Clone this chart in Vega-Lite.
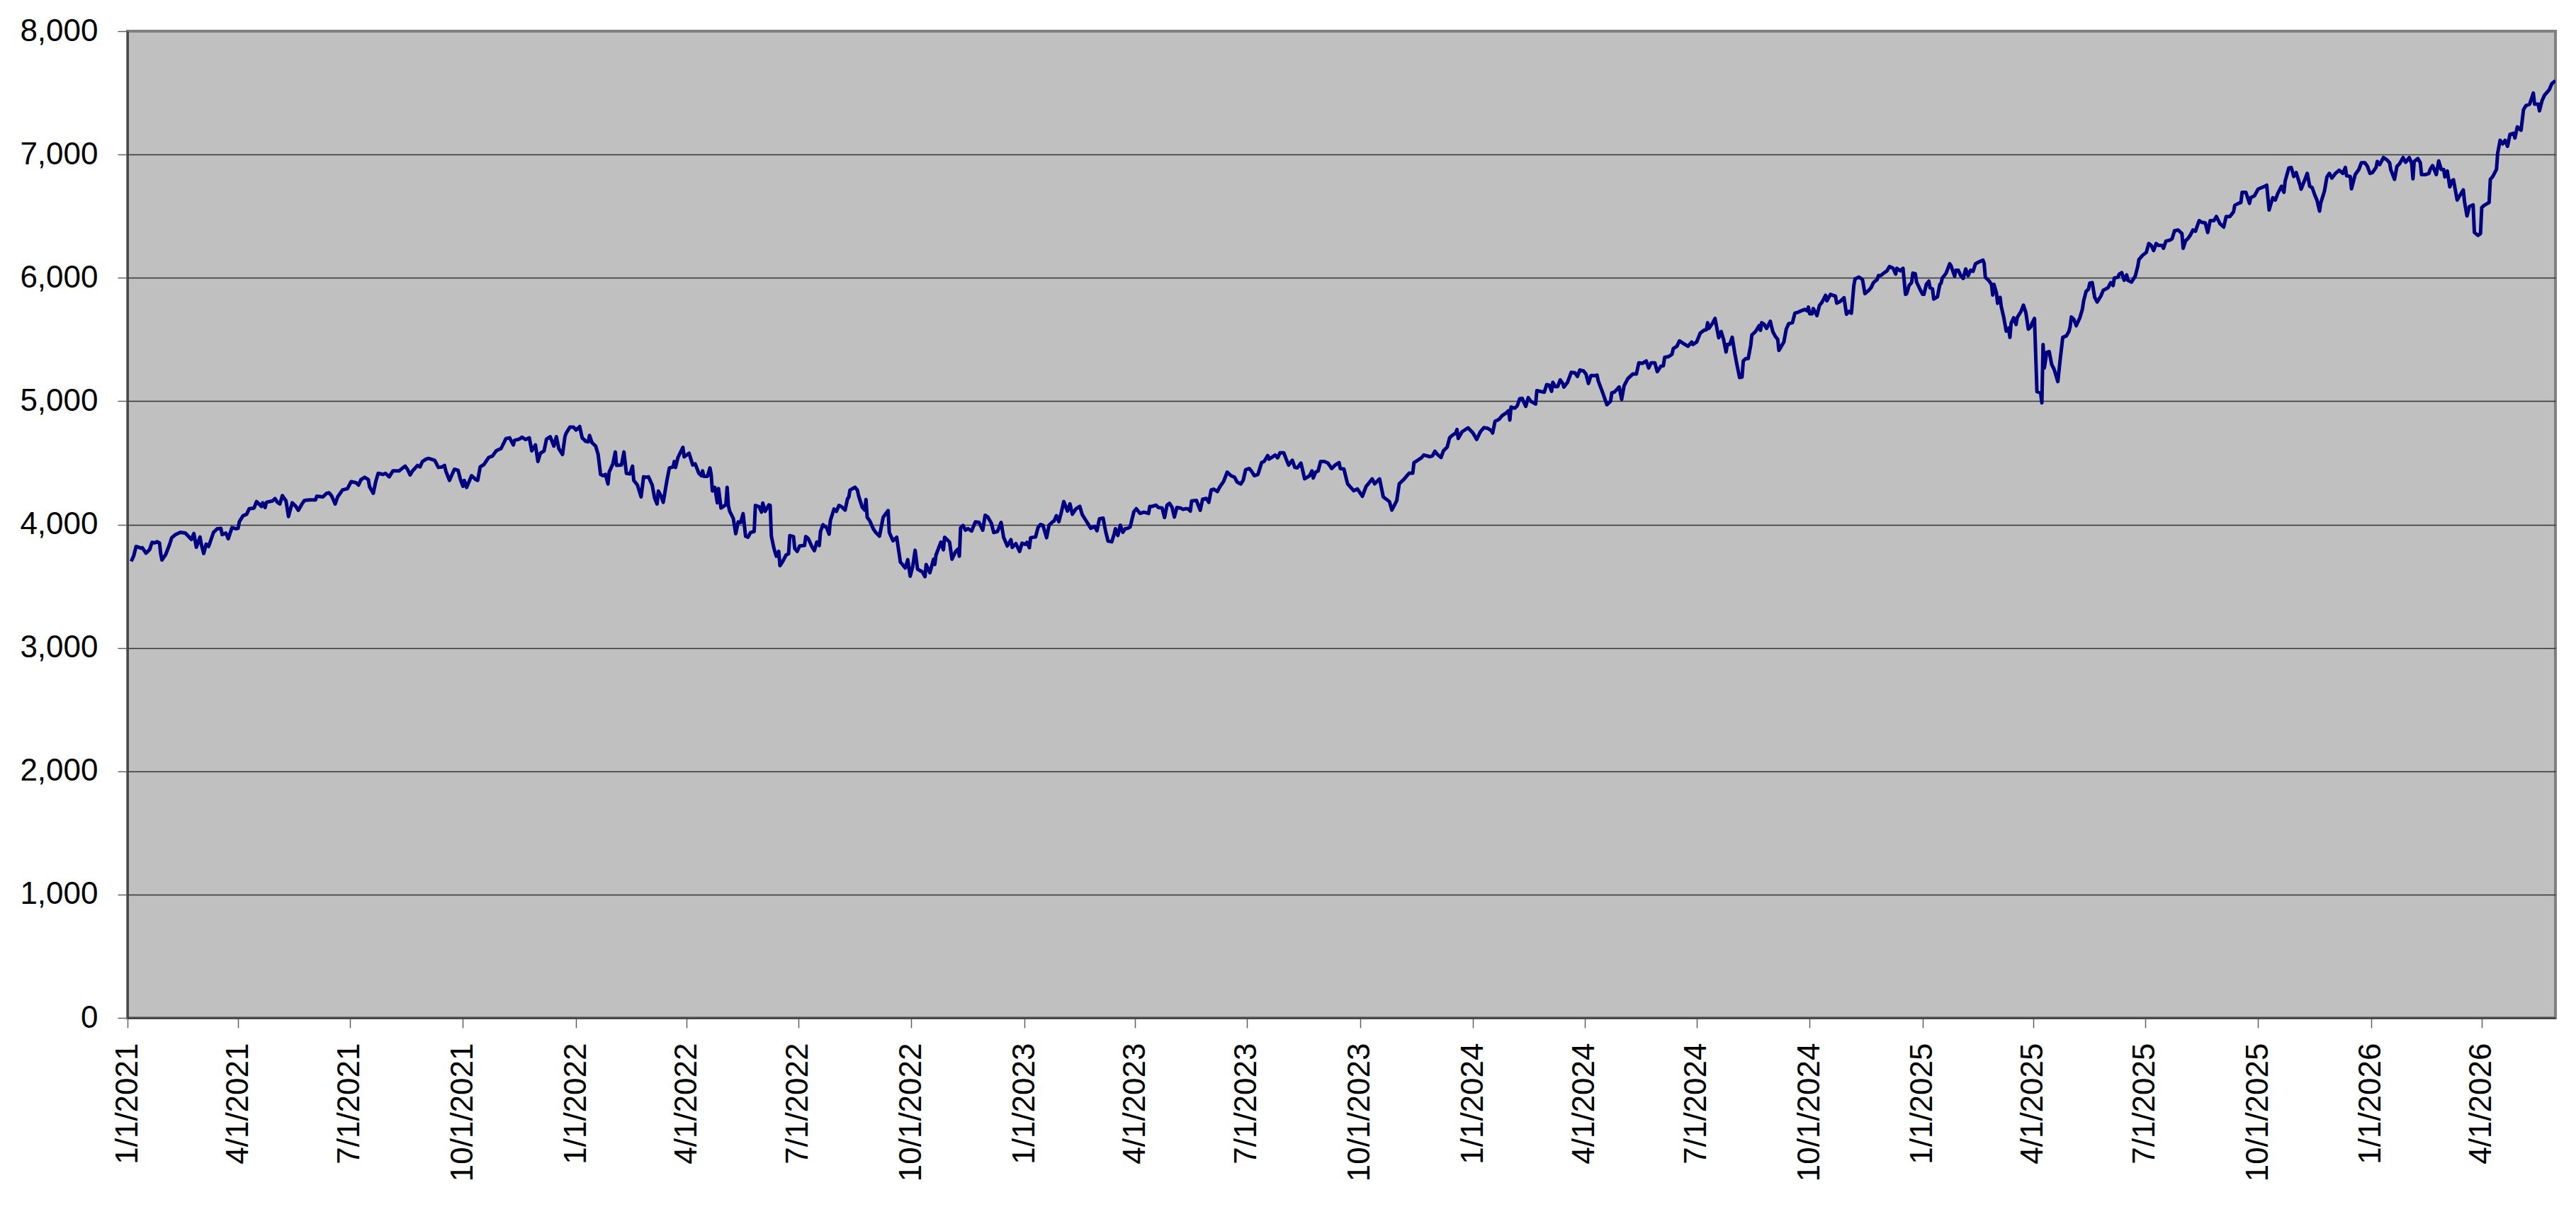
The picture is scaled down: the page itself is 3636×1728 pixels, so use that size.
{
"$schema": "https://vega.github.io/schema/vega-lite/v6.json",
"width": 3427, "height": 1393,
"autosize": {"type": "none"},
"padding": {"left": 180, "top": 44, "right": 29, "bottom": 291},
"background": "white",
"config": {
  "view": {"fill": "#C0C0C0", "stroke": "#808080", "strokeWidth": 4},
  "axis": {"labelFont": "Liberation Sans", "labelFontSize": 44, "labelColor": "#000000", "labelLimit": 0}
},
"data": {"values": [
{"d":"2021-01-04","v":3701},{"d":"2021-01-06","v":3745},{"d":"2021-01-08","v":3822},{"d":"2021-01-12","v":3809},{"d":"2021-01-13","v":3812},{"d":"2021-01-16","v":3768},{"d":"2021-01-19","v":3797},{"d":"2021-01-21","v":3856},{"d":"2021-01-23","v":3851},{"d":"2021-01-25","v":3860},{"d":"2021-01-27","v":3851},{"d":"2021-01-28","v":3765},{"d":"2021-01-29","v":3713},
{"d":"2021-02-01","v":3755},{"d":"2021-02-04","v":3832},{"d":"2021-02-06","v":3893},{"d":"2021-02-09","v":3918},{"d":"2021-02-13","v":3937},{"d":"2021-02-17","v":3931},{"d":"2021-02-22","v":3879},{"d":"2021-02-24","v":3927},{"d":"2021-02-26","v":3816},
{"d":"2021-03-01","v":3899},{"d":"2021-03-02","v":3841},{"d":"2021-03-04","v":3765},{"d":"2021-03-06","v":3841},{"d":"2021-03-08","v":3822},{"d":"2021-03-12","v":3937},{"d":"2021-03-15","v":3966},{"d":"2021-03-18","v":3969},{"d":"2021-03-19","v":3918},{"d":"2021-03-22","v":3931},{"d":"2021-03-24","v":3885},{"d":"2021-03-27","v":3975},{"d":"2021-03-30","v":3966},
{"d":"2021-04-01","v":3969},{"d":"2021-04-02","v":4023},{"d":"2021-04-05","v":4071},{"d":"2021-04-08","v":4084},{"d":"2021-04-10","v":4128},{"d":"2021-04-14","v":4134},{"d":"2021-04-16","v":4186},{"d":"2021-04-20","v":4147},{"d":"2021-04-21","v":4176},{"d":"2021-04-23","v":4138},{"d":"2021-04-24","v":4180},{"d":"2021-04-29","v":4191},
{"d":"2021-05-01","v":4210},{"d":"2021-05-03","v":4180},{"d":"2021-05-05","v":4167},{"d":"2021-05-07","v":4234},{"d":"2021-05-10","v":4191},{"d":"2021-05-12","v":4065},{"d":"2021-05-15","v":4176},{"d":"2021-05-18","v":4147},{"d":"2021-05-20","v":4115},{"d":"2021-05-23","v":4167},{"d":"2021-05-25","v":4195},{"d":"2021-05-29","v":4199},
{"d":"2021-06-03","v":4199},{"d":"2021-06-04","v":4230},{"d":"2021-06-09","v":4224},{"d":"2021-06-12","v":4253},{"d":"2021-06-14","v":4257},{"d":"2021-06-16","v":4234},{"d":"2021-06-19","v":4167},{"d":"2021-06-21","v":4224},{"d":"2021-06-25","v":4281},{"d":"2021-06-29","v":4291},
{"d":"2021-07-02","v":4348},{"d":"2021-07-06","v":4339},{"d":"2021-07-08","v":4320},{"d":"2021-07-10","v":4364},{"d":"2021-07-13","v":4383},{"d":"2021-07-16","v":4364},{"d":"2021-07-17","v":4306},{"d":"2021-07-20","v":4253},{"d":"2021-07-22","v":4348},{"d":"2021-07-24","v":4415},{"d":"2021-07-28","v":4406},{"d":"2021-07-30","v":4415},
{"d":"2021-08-02","v":4387},{"d":"2021-08-05","v":4435},{"d":"2021-08-10","v":4435},{"d":"2021-08-13","v":4459},{"d":"2021-08-15","v":4473},{"d":"2021-08-17","v":4444},{"d":"2021-08-19","v":4402},{"d":"2021-08-21","v":4435},{"d":"2021-08-25","v":4479},{"d":"2021-08-27","v":4467},{"d":"2021-08-29","v":4511},
{"d":"2021-09-01","v":4530},{"d":"2021-09-03","v":4536},{"d":"2021-09-08","v":4521},{"d":"2021-09-11","v":4463},{"d":"2021-09-14","v":4467},{"d":"2021-09-16","v":4479},{"d":"2021-09-17","v":4435},{"d":"2021-09-20","v":4358},{"d":"2021-09-24","v":4448},{"d":"2021-09-27","v":4440},{"d":"2021-09-29","v":4364},
{"d":"2021-10-01","v":4310},{"d":"2021-10-02","v":4358},{"d":"2021-10-04","v":4301},{"d":"2021-10-08","v":4396},{"d":"2021-10-11","v":4368},{"d":"2021-10-13","v":4358},{"d":"2021-10-15","v":4467},{"d":"2021-10-18","v":4486},{"d":"2021-10-22","v":4544},{"d":"2021-10-25","v":4555},{"d":"2021-10-28","v":4597},{"d":"2021-10-30","v":4607},
{"d":"2021-11-01","v":4616},{"d":"2021-11-05","v":4697},{"d":"2021-11-08","v":4703},{"d":"2021-11-11","v":4645},{"d":"2021-11-12","v":4683},{"d":"2021-11-16","v":4693},{"d":"2021-11-18","v":4708},{"d":"2021-11-21","v":4689},{"d":"2021-11-24","v":4703},{"d":"2021-11-26","v":4597},{"d":"2021-11-29","v":4645},
{"d":"2021-12-01","v":4511},{"d":"2021-12-03","v":4578},{"d":"2021-12-06","v":4597},{"d":"2021-12-08","v":4693},{"d":"2021-12-11","v":4712},{"d":"2021-12-14","v":4636},{"d":"2021-12-16","v":4712},{"d":"2021-12-18","v":4616},{"d":"2021-12-21","v":4568},{"d":"2021-12-23","v":4712},{"d":"2021-12-24","v":4741},{"d":"2021-12-27","v":4789},{"d":"2021-12-30","v":4789},
{"d":"2022-01-01","v":4766},{"d":"2022-01-04","v":4794},{"d":"2022-01-06","v":4703},{"d":"2022-01-09","v":4674},{"d":"2022-01-11","v":4670},{"d":"2022-01-12","v":4722},{"d":"2022-01-14","v":4664},{"d":"2022-01-17","v":4636},{"d":"2022-01-19","v":4569},{"d":"2022-01-21","v":4406},{"d":"2022-01-23","v":4396},{"d":"2022-01-25","v":4406},{"d":"2022-01-27","v":4329},{"d":"2022-01-28","v":4425},{"d":"2022-01-31","v":4492},
{"d":"2022-02-02","v":4588},{"d":"2022-02-03","v":4479},{"d":"2022-02-07","v":4483},{"d":"2022-02-09","v":4588},{"d":"2022-02-11","v":4415},{"d":"2022-02-14","v":4410},{"d":"2022-02-16","v":4473},{"d":"2022-02-17","v":4358},{"d":"2022-02-20","v":4320},{"d":"2022-02-23","v":4224},{"d":"2022-02-25","v":4387},{"d":"2022-02-27","v":4383},
{"d":"2022-03-01","v":4387},{"d":"2022-03-04","v":4320},{"d":"2022-03-06","v":4214},{"d":"2022-03-08","v":4167},{"d":"2022-03-09","v":4272},{"d":"2022-03-11","v":4234},{"d":"2022-03-13","v":4180},{"d":"2022-03-16","v":4358},{"d":"2022-03-18","v":4459},{"d":"2022-03-21","v":4467},{"d":"2022-03-22","v":4511},{"d":"2022-03-23","v":4463},{"d":"2022-03-25","v":4544},{"d":"2022-03-29","v":4626},{"d":"2022-03-30","v":4549},
{"d":"2022-04-01","v":4563},{"d":"2022-04-03","v":4578},{"d":"2022-04-06","v":4483},{"d":"2022-04-08","v":4492},{"d":"2022-04-11","v":4415},{"d":"2022-04-13","v":4396},{"d":"2022-04-14","v":4435},{"d":"2022-04-15","v":4391},{"d":"2022-04-18","v":4391},{"d":"2022-04-20","v":4459},{"d":"2022-04-21","v":4406},{"d":"2022-04-22","v":4272},{"d":"2022-04-24","v":4301},{"d":"2022-04-26","v":4176},{"d":"2022-04-27","v":4291},{"d":"2022-04-29","v":4134},
{"d":"2022-05-01","v":4147},{"d":"2022-05-03","v":4161},{"d":"2022-05-04","v":4301},{"d":"2022-05-05","v":4155},{"d":"2022-05-06","v":4110},{"d":"2022-05-09","v":4050},{"d":"2022-05-11","v":3925},{"d":"2022-05-13","v":4021},{"d":"2022-05-15","v":4017},{"d":"2022-05-17","v":4088},{"d":"2022-05-19","v":3906},{"d":"2022-05-21","v":3897},{"d":"2022-05-23","v":3935},{"d":"2022-05-26","v":3944},{"d":"2022-05-27","v":4155},{"d":"2022-05-30","v":4145},
{"d":"2022-06-01","v":4101},{"d":"2022-06-02","v":4174},{"d":"2022-06-04","v":4107},{"d":"2022-06-07","v":4159},{"d":"2022-06-08","v":4155},{"d":"2022-06-09","v":3906},{"d":"2022-06-11","v":3810},{"d":"2022-06-13","v":3743},{"d":"2022-06-15","v":3782},{"d":"2022-06-16","v":3667},{"d":"2022-06-18","v":3696},{"d":"2022-06-21","v":3753},{"d":"2022-06-23","v":3763},{"d":"2022-06-24","v":3910},{"d":"2022-06-27","v":3902},{"d":"2022-06-28","v":3807},{"d":"2022-06-30","v":3782},
{"d":"2022-07-02","v":3826},{"d":"2022-07-06","v":3830},{"d":"2022-07-07","v":3902},{"d":"2022-07-09","v":3887},{"d":"2022-07-12","v":3820},{"d":"2022-07-14","v":3788},{"d":"2022-07-16","v":3858},{"d":"2022-07-18","v":3830},{"d":"2022-07-19","v":3944},{"d":"2022-07-21","v":3998},{"d":"2022-07-24","v":3973},{"d":"2022-07-26","v":3922},{"d":"2022-07-27","v":4031},{"d":"2022-07-30","v":4126},
{"d":"2022-08-01","v":4107},{"d":"2022-08-03","v":4155},{"d":"2022-08-05","v":4145},{"d":"2022-08-08","v":4117},{"d":"2022-08-10","v":4209},{"d":"2022-08-11","v":4222},{"d":"2022-08-12","v":4279},{"d":"2022-08-16","v":4302},{"d":"2022-08-18","v":4279},{"d":"2022-08-19","v":4232},{"d":"2022-08-22","v":4140},{"d":"2022-08-24","v":4117},{"d":"2022-08-25","v":4203},{"d":"2022-08-26","v":4059},{"d":"2022-08-28","v":4031},{"d":"2022-08-31","v":3964},
{"d":"2022-09-02","v":3935},{"d":"2022-09-05","v":3906},{"d":"2022-09-08","v":4059},{"d":"2022-09-12","v":4113},{"d":"2022-09-13","v":3935},{"d":"2022-09-16","v":3868},{"d":"2022-09-19","v":3897},{"d":"2022-09-22","v":3696},{"d":"2022-09-26","v":3648},{"d":"2022-09-28","v":3715},{"d":"2022-09-30","v":3581},
{"d":"2022-10-02","v":3657},{"d":"2022-10-04","v":3791},{"d":"2022-10-06","v":3638},{"d":"2022-10-10","v":3615},{"d":"2022-10-12","v":3577},{"d":"2022-10-13","v":3676},{"d":"2022-10-16","v":3609},{"d":"2022-10-19","v":3719},{"d":"2022-10-20","v":3676},{"d":"2022-10-21","v":3753},{"d":"2022-10-25","v":3858},{"d":"2022-10-27","v":3795},{"d":"2022-10-28","v":3897},
{"d":"2022-11-01","v":3858},{"d":"2022-11-03","v":3719},{"d":"2022-11-06","v":3782},{"d":"2022-11-08","v":3801},{"d":"2022-11-09","v":3743},{"d":"2022-11-10","v":3973},{"d":"2022-11-12","v":3992},{"d":"2022-11-14","v":3954},{"d":"2022-11-16","v":3967},{"d":"2022-11-19","v":3948},{"d":"2022-11-22","v":4021},{"d":"2022-11-25","v":4017},{"d":"2022-11-28","v":3954},{"d":"2022-11-30","v":4075},
{"d":"2022-12-02","v":4063},{"d":"2022-12-05","v":4011},{"d":"2022-12-07","v":3935},{"d":"2022-12-10","v":3944},{"d":"2022-12-13","v":4017},{"d":"2022-12-15","v":3897},{"d":"2022-12-18","v":3826},{"d":"2022-12-21","v":3877},{"d":"2022-12-22","v":3814},{"d":"2022-12-25","v":3845},{"d":"2022-12-28","v":3782},{"d":"2022-12-30","v":3849},
{"d":"2023-01-02","v":3839},{"d":"2023-01-03","v":3855},{"d":"2023-01-05","v":3812},{"d":"2023-01-06","v":3893},{"d":"2023-01-10","v":3899},{"d":"2023-01-12","v":3975},{"d":"2023-01-14","v":4000},{"d":"2023-01-16","v":3994},{"d":"2023-01-19","v":3893},{"d":"2023-01-21","v":3994},{"d":"2023-01-24","v":4023},{"d":"2023-01-25","v":4027},{"d":"2023-01-27","v":4071},{"d":"2023-01-29","v":4023},{"d":"2023-01-31","v":4100},
{"d":"2023-02-02","v":4186},{"d":"2023-02-05","v":4109},{"d":"2023-02-07","v":4167},{"d":"2023-02-09","v":4084},{"d":"2023-02-12","v":4128},{"d":"2023-02-15","v":4147},{"d":"2023-02-17","v":4080},{"d":"2023-02-20","v":4033},{"d":"2023-02-23","v":3985},{"d":"2023-02-24","v":3969},{"d":"2023-02-27","v":3985},
{"d":"2023-03-01","v":3950},{"d":"2023-03-03","v":4046},{"d":"2023-03-06","v":4052},{"d":"2023-03-08","v":3946},{"d":"2023-03-10","v":3866},{"d":"2023-03-13","v":3860},{"d":"2023-03-15","v":3923},{"d":"2023-03-16","v":3966},{"d":"2023-03-18","v":3912},{"d":"2023-03-20","v":3994},{"d":"2023-03-22","v":3937},{"d":"2023-03-24","v":3966},{"d":"2023-03-26","v":3969},{"d":"2023-03-28","v":3981},{"d":"2023-03-31","v":4103},
{"d":"2023-04-02","v":4128},{"d":"2023-04-05","v":4090},{"d":"2023-04-08","v":4100},{"d":"2023-04-10","v":4096},{"d":"2023-04-12","v":4090},{"d":"2023-04-13","v":4147},{"d":"2023-04-15","v":4147},{"d":"2023-04-18","v":4157},{"d":"2023-04-20","v":4138},{"d":"2023-04-23","v":4134},{"d":"2023-04-25","v":4057},{"d":"2023-04-27","v":4157},{"d":"2023-04-29","v":4172},
{"d":"2023-05-01","v":4142},{"d":"2023-05-03","v":4061},{"d":"2023-05-05","v":4138},{"d":"2023-05-08","v":4134},{"d":"2023-05-10","v":4123},{"d":"2023-05-12","v":4128},{"d":"2023-05-14","v":4128},{"d":"2023-05-16","v":4109},{"d":"2023-05-17","v":4191},{"d":"2023-05-21","v":4195},{"d":"2023-05-22","v":4167},{"d":"2023-05-24","v":4115},{"d":"2023-05-26","v":4205},{"d":"2023-05-29","v":4211},{"d":"2023-05-31","v":4180},
{"d":"2023-06-02","v":4281},{"d":"2023-06-04","v":4287},{"d":"2023-06-07","v":4268},{"d":"2023-06-09","v":4306},{"d":"2023-06-12","v":4348},{"d":"2023-06-15","v":4425},{"d":"2023-06-18","v":4396},{"d":"2023-06-21","v":4383},{"d":"2023-06-23","v":4345},{"d":"2023-06-26","v":4329},{"d":"2023-06-28","v":4358},{"d":"2023-06-30","v":4444},
{"d":"2023-07-03","v":4454},{"d":"2023-07-05","v":4429},{"d":"2023-07-07","v":4396},{"d":"2023-07-10","v":4406},{"d":"2023-07-13","v":4502},{"d":"2023-07-15","v":4511},{"d":"2023-07-18","v":4559},{"d":"2023-07-19","v":4530},{"d":"2023-07-22","v":4549},{"d":"2023-07-24","v":4563},{"d":"2023-07-26","v":4540},{"d":"2023-07-28","v":4582},{"d":"2023-07-31","v":4582},
{"d":"2023-08-02","v":4530},{"d":"2023-08-04","v":4482},{"d":"2023-08-07","v":4521},{"d":"2023-08-09","v":4463},{"d":"2023-08-11","v":4459},{"d":"2023-08-14","v":4498},{"d":"2023-08-17","v":4371},{"d":"2023-08-19","v":4383},{"d":"2023-08-21","v":4396},{"d":"2023-08-23","v":4435},{"d":"2023-08-24","v":4377},{"d":"2023-08-26","v":4425},{"d":"2023-08-28","v":4435},{"d":"2023-08-30","v":4511},
{"d":"2023-09-02","v":4511},{"d":"2023-09-05","v":4498},{"d":"2023-09-08","v":4454},{"d":"2023-09-11","v":4483},{"d":"2023-09-14","v":4502},{"d":"2023-09-15","v":4454},{"d":"2023-09-18","v":4449},{"d":"2023-09-20","v":4368},{"d":"2023-09-21","v":4330},{"d":"2023-09-26","v":4274},{"d":"2023-09-29","v":4288},
{"d":"2023-10-03","v":4229},{"d":"2023-10-06","v":4308},{"d":"2023-10-11","v":4370},{"d":"2023-10-13","v":4330},{"d":"2023-10-17","v":4370},{"d":"2023-10-20","v":4224},{"d":"2023-10-25","v":4186},{"d":"2023-10-27","v":4117},{"d":"2023-10-31","v":4194},
{"d":"2023-11-02","v":4330},{"d":"2023-11-06","v":4368},{"d":"2023-11-10","v":4416},{"d":"2023-11-13","v":4416},{"d":"2023-11-14","v":4502},{"d":"2023-11-17","v":4521},{"d":"2023-11-20","v":4541},{"d":"2023-11-22","v":4564},{"d":"2023-11-27","v":4550},{"d":"2023-11-29","v":4556},
{"d":"2023-12-01","v":4594},{"d":"2023-12-03","v":4569},{"d":"2023-12-06","v":4544},{"d":"2023-12-08","v":4598},{"d":"2023-12-11","v":4627},{"d":"2023-12-13","v":4703},{"d":"2023-12-15","v":4722},{"d":"2023-12-18","v":4742},{"d":"2023-12-19","v":4770},{"d":"2023-12-20","v":4698},{"d":"2023-12-23","v":4751},{"d":"2023-12-28","v":4784},
{"d":"2024-01-01","v":4742},{"d":"2024-01-04","v":4690},{"d":"2024-01-07","v":4751},{"d":"2024-01-10","v":4786},{"d":"2024-01-13","v":4780},{"d":"2024-01-16","v":4761},{"d":"2024-01-17","v":4742},{"d":"2024-01-19","v":4837},{"d":"2024-01-22","v":4851},{"d":"2024-01-25","v":4885},{"d":"2024-01-28","v":4904},{"d":"2024-01-30","v":4923},{"d":"2024-01-31","v":4847},
{"d":"2024-02-01","v":4952},{"d":"2024-02-04","v":4943},{"d":"2024-02-06","v":4962},{"d":"2024-02-08","v":5019},{"d":"2024-02-10","v":5023},{"d":"2024-02-13","v":4958},{"d":"2024-02-15","v":5029},{"d":"2024-02-17","v":5000},{"d":"2024-02-21","v":4977},{"d":"2024-02-22","v":5086},{"d":"2024-02-26","v":5077},{"d":"2024-02-28","v":5073},
{"d":"2024-03-01","v":5134},{"d":"2024-03-03","v":5130},{"d":"2024-03-05","v":5080},{"d":"2024-03-06","v":5153},{"d":"2024-03-08","v":5119},{"d":"2024-03-10","v":5119},{"d":"2024-03-12","v":5172},{"d":"2024-03-14","v":5144},{"d":"2024-03-15","v":5115},{"d":"2024-03-18","v":5153},{"d":"2024-03-21","v":5234},{"d":"2024-03-24","v":5230},{"d":"2024-03-26","v":5201},{"d":"2024-03-28","v":5253},{"d":"2024-03-31","v":5245},
{"d":"2024-04-02","v":5220},{"d":"2024-04-04","v":5144},{"d":"2024-04-06","v":5207},{"d":"2024-04-09","v":5207},{"d":"2024-04-11","v":5211},{"d":"2024-04-12","v":5163},{"d":"2024-04-16","v":5057},{"d":"2024-04-18","v":5000},{"d":"2024-04-19","v":4971},{"d":"2024-04-22","v":5000},{"d":"2024-04-23","v":5067},{"d":"2024-04-25","v":5073},{"d":"2024-04-28","v":5105},{"d":"2024-04-29","v":5115},
{"d":"2024-05-01","v":5015},{"d":"2024-05-03","v":5125},{"d":"2024-05-06","v":5182},{"d":"2024-05-08","v":5201},{"d":"2024-05-10","v":5220},{"d":"2024-05-13","v":5221},{"d":"2024-05-15","v":5311},{"d":"2024-05-18","v":5307},{"d":"2024-05-21","v":5326},{"d":"2024-05-23","v":5269},{"d":"2024-05-25","v":5311},{"d":"2024-05-28","v":5311},{"d":"2024-05-30","v":5240},
{"d":"2024-06-02","v":5284},{"d":"2024-06-04","v":5288},{"d":"2024-06-05","v":5355},{"d":"2024-06-08","v":5361},{"d":"2024-06-11","v":5380},{"d":"2024-06-12","v":5426},{"d":"2024-06-15","v":5445},{"d":"2024-06-17","v":5489},{"d":"2024-06-20","v":5470},{"d":"2024-06-24","v":5445},{"d":"2024-06-27","v":5479},{"d":"2024-06-28","v":5460},
{"d":"2024-07-01","v":5479},{"d":"2024-07-04","v":5552},{"d":"2024-07-07","v":5575},{"d":"2024-07-09","v":5579},{"d":"2024-07-10","v":5636},{"d":"2024-07-11","v":5590},{"d":"2024-07-14","v":5632},{"d":"2024-07-16","v":5671},{"d":"2024-07-19","v":5514},{"d":"2024-07-21","v":5565},{"d":"2024-07-23","v":5499},{"d":"2024-07-25","v":5399},{"d":"2024-07-26","v":5460},{"d":"2024-07-28","v":5460},{"d":"2024-07-30","v":5518},
{"d":"2024-08-01","v":5393},{"d":"2024-08-03","v":5288},{"d":"2024-08-05","v":5192},{"d":"2024-08-07","v":5196},{"d":"2024-08-08","v":5326},{"d":"2024-08-10","v":5345},{"d":"2024-08-12","v":5345},{"d":"2024-08-14","v":5451},{"d":"2024-08-15","v":5537},{"d":"2024-08-18","v":5565},{"d":"2024-08-21","v":5613},{"d":"2024-08-22","v":5575},{"d":"2024-08-23","v":5636},{"d":"2024-08-25","v":5623},{"d":"2024-08-27","v":5590},{"d":"2024-08-30","v":5648},
{"d":"2024-09-01","v":5565},{"d":"2024-09-03","v":5527},{"d":"2024-09-05","v":5502},{"d":"2024-09-06","v":5412},{"d":"2024-09-10","v":5479},{"d":"2024-09-12","v":5585},{"d":"2024-09-14","v":5629},{"d":"2024-09-17","v":5636},{"d":"2024-09-19","v":5713},{"d":"2024-09-21","v":5719},{"d":"2024-09-24","v":5732},{"d":"2024-09-27","v":5744},{"d":"2024-09-29","v":5732},{"d":"2024-09-30","v":5763},
{"d":"2024-10-01","v":5709},{"d":"2024-10-03","v":5709},{"d":"2024-10-04","v":5751},{"d":"2024-10-07","v":5694},{"d":"2024-10-09","v":5776},{"d":"2024-10-11","v":5801},{"d":"2024-10-14","v":5858},{"d":"2024-10-15","v":5814},{"d":"2024-10-18","v":5866},{"d":"2024-10-20","v":5858},{"d":"2024-10-22","v":5853},{"d":"2024-10-23","v":5795},{"d":"2024-10-26","v":5809},{"d":"2024-10-29","v":5839},{"d":"2024-10-31","v":5705},
{"d":"2024-11-02","v":5728},{"d":"2024-11-04","v":5713},{"d":"2024-11-06","v":5939},{"d":"2024-11-07","v":5992},{"d":"2024-11-10","v":6006},{"d":"2024-11-13","v":5987},{"d":"2024-11-15","v":5872},{"d":"2024-11-18","v":5897},{"d":"2024-11-20","v":5920},{"d":"2024-11-22","v":5962},{"d":"2024-11-25","v":5987},{"d":"2024-11-26","v":6019},{"d":"2024-11-28","v":6019},
{"d":"2024-12-01","v":6044},{"d":"2024-12-03","v":6057},{"d":"2024-12-05","v":6092},{"d":"2024-12-08","v":6077},{"d":"2024-12-10","v":6031},{"d":"2024-12-11","v":6077},{"d":"2024-12-14","v":6057},{"d":"2024-12-16","v":6077},{"d":"2024-12-18","v":5866},{"d":"2024-12-19","v":5872},{"d":"2024-12-21","v":5939},{"d":"2024-12-23","v":5962},{"d":"2024-12-24","v":6038},{"d":"2024-12-26","v":6034},{"d":"2024-12-27","v":5967},{"d":"2024-12-30","v":5904},
{"d":"2025-01-01","v":5866},{"d":"2025-01-02","v":5866},{"d":"2025-01-04","v":5948},{"d":"2025-01-06","v":5973},{"d":"2025-01-07","v":5920},{"d":"2025-01-09","v":5910},{"d":"2025-01-10","v":5828},{"d":"2025-01-13","v":5846},{"d":"2025-01-15","v":5947},{"d":"2025-01-16","v":5957},{"d":"2025-01-17","v":5999},{"d":"2025-01-20","v":6037},{"d":"2025-01-23","v":6114},{"d":"2025-01-24","v":6100},{"d":"2025-01-27","v":6014},{"d":"2025-01-28","v":6062},{"d":"2025-01-30","v":6062},
{"d":"2025-02-01","v":6018},{"d":"2025-02-03","v":5995},{"d":"2025-02-05","v":6072},{"d":"2025-02-07","v":6018},{"d":"2025-02-09","v":6062},{"d":"2025-02-11","v":6053},{"d":"2025-02-13","v":6114},{"d":"2025-02-15","v":6125},{"d":"2025-02-19","v":6144},{"d":"2025-02-20","v":6120},{"d":"2025-02-21","v":6005},{"d":"2025-02-24","v":5976},{"d":"2025-02-26","v":5947},{"d":"2025-02-27","v":5861},{"d":"2025-02-28","v":5947},
{"d":"2025-03-02","v":5880},{"d":"2025-03-03","v":5794},{"d":"2025-03-05","v":5842},{"d":"2025-03-06","v":5765},{"d":"2025-03-08","v":5679},{"d":"2025-03-10","v":5568},{"d":"2025-03-12","v":5593},{"d":"2025-03-13","v":5517},{"d":"2025-03-14","v":5632},{"d":"2025-03-16","v":5676},{"d":"2025-03-18","v":5622},{"d":"2025-03-19","v":5679},{"d":"2025-03-22","v":5727},{"d":"2025-03-24","v":5779},{"d":"2025-03-26","v":5718},{"d":"2025-03-28","v":5584},{"d":"2025-03-30","v":5603},{"d":"2025-03-31","v":5632},
{"d":"2025-04-02","v":5670},{"d":"2025-04-03","v":5373},{"d":"2025-04-04","v":5077},{"d":"2025-04-07","v":5067},{"d":"2025-04-08","v":4987},{"d":"2025-04-09","v":5459},{"d":"2025-04-10","v":5268},{"d":"2025-04-12","v":5396},{"d":"2025-04-14","v":5402},{"d":"2025-04-16","v":5297},{"d":"2025-04-18","v":5258},{"d":"2025-04-21","v":5159},{"d":"2025-04-23","v":5345},{"d":"2025-04-25","v":5517},{"d":"2025-04-28","v":5530},{"d":"2025-04-30","v":5565},
{"d":"2025-05-01","v":5603},{"d":"2025-05-02","v":5683},{"d":"2025-05-04","v":5664},{"d":"2025-05-06","v":5612},{"d":"2025-05-09","v":5679},{"d":"2025-05-11","v":5746},{"d":"2025-05-12","v":5813},{"d":"2025-05-14","v":5890},{"d":"2025-05-16","v":5909},{"d":"2025-05-17","v":5957},{"d":"2025-05-19","v":5961},{"d":"2025-05-21","v":5842},{"d":"2025-05-23","v":5804},{"d":"2025-05-26","v":5852},{"d":"2025-05-28","v":5900},{"d":"2025-05-30","v":5909},
{"d":"2025-06-01","v":5922},{"d":"2025-06-03","v":5961},{"d":"2025-06-05","v":5938},{"d":"2025-06-06","v":5999},{"d":"2025-06-09","v":6005},{"d":"2025-06-10","v":6030},{"d":"2025-06-12","v":6043},{"d":"2025-06-14","v":5980},{"d":"2025-06-16","v":6024},{"d":"2025-06-17","v":5980},{"d":"2025-06-20","v":5966},{"d":"2025-06-23","v":6014},{"d":"2025-06-25","v":6091},{"d":"2025-06-26","v":6148},{"d":"2025-06-29","v":6183},
{"d":"2025-07-02","v":6206},{"d":"2025-07-04","v":6278},{"d":"2025-07-06","v":6263},{"d":"2025-07-08","v":6221},{"d":"2025-07-10","v":6278},{"d":"2025-07-12","v":6263},{"d":"2025-07-15","v":6263},{"d":"2025-07-16","v":6240},{"d":"2025-07-18","v":6298},{"d":"2025-07-21","v":6305},{"d":"2025-07-23","v":6317},{"d":"2025-07-25","v":6382},{"d":"2025-07-28","v":6388},{"d":"2025-07-31","v":6359},
{"d":"2025-08-01","v":6240},{"d":"2025-08-03","v":6301},{"d":"2025-08-05","v":6320},{"d":"2025-08-07","v":6349},{"d":"2025-08-09","v":6388},{"d":"2025-08-11","v":6378},{"d":"2025-08-14","v":6464},{"d":"2025-08-16","v":6451},{"d":"2025-08-19","v":6445},{"d":"2025-08-21","v":6368},{"d":"2025-08-23","v":6464},{"d":"2025-08-26","v":6464},{"d":"2025-08-28","v":6497},{"d":"2025-08-31","v":6439},
{"d":"2025-09-03","v":6412},{"d":"2025-09-05","v":6497},{"d":"2025-09-08","v":6497},{"d":"2025-09-11","v":6535},{"d":"2025-09-12","v":6588},{"d":"2025-09-15","v":6604},{"d":"2025-09-17","v":6611},{"d":"2025-09-18","v":6694},{"d":"2025-09-21","v":6694},{"d":"2025-09-24","v":6604},{"d":"2025-09-25","v":6650},{"d":"2025-09-28","v":6665},
{"d":"2025-10-01","v":6719},{"d":"2025-10-04","v":6732},{"d":"2025-10-07","v":6745},{"d":"2025-10-08","v":6751},{"d":"2025-10-10","v":6550},{"d":"2025-10-11","v":6588},{"d":"2025-10-13","v":6650},{"d":"2025-10-15","v":6631},{"d":"2025-10-17","v":6684},{"d":"2025-10-20","v":6742},{"d":"2025-10-22","v":6694},{"d":"2025-10-23","v":6784},{"d":"2025-10-26","v":6891},{"d":"2025-10-28","v":6895},{"d":"2025-10-30","v":6822},
{"d":"2025-11-01","v":6853},{"d":"2025-11-04","v":6757},{"d":"2025-11-05","v":6719},{"d":"2025-11-08","v":6795},{"d":"2025-11-10","v":6847},{"d":"2025-11-12","v":6742},{"d":"2025-11-14","v":6732},{"d":"2025-11-16","v":6675},{"d":"2025-11-18","v":6627},{"d":"2025-11-20","v":6541},{"d":"2025-11-21","v":6608},{"d":"2025-11-24","v":6703},{"d":"2025-11-26","v":6818},{"d":"2025-11-28","v":6847},{"d":"2025-11-30","v":6809},
{"d":"2025-12-03","v":6847},{"d":"2025-12-06","v":6872},{"d":"2025-12-09","v":6847},{"d":"2025-12-11","v":6895},{"d":"2025-12-12","v":6828},{"d":"2025-12-15","v":6822},{"d":"2025-12-16","v":6722},{"d":"2025-12-19","v":6837},{"d":"2025-12-22","v":6879},{"d":"2025-12-24","v":6933},{"d":"2025-12-27","v":6933},{"d":"2025-12-29","v":6904},{"d":"2025-12-31","v":6847},
{"d":"2026-01-02","v":6853},{"d":"2026-01-05","v":6895},{"d":"2026-01-06","v":6943},{"d":"2026-01-08","v":6918},{"d":"2026-01-11","v":6975},{"d":"2026-01-14","v":6956},{"d":"2026-01-16","v":6933},{"d":"2026-01-17","v":6876},{"d":"2026-01-20","v":6799},{"d":"2026-01-22","v":6904},{"d":"2026-01-24","v":6923},{"d":"2026-01-27","v":6975},{"d":"2026-01-29","v":6937},
{"d":"2026-02-01","v":6975},{"d":"2026-02-03","v":6929},{"d":"2026-02-04","v":6803},{"d":"2026-02-05","v":6943},{"d":"2026-02-08","v":6967},{"d":"2026-02-10","v":6933},{"d":"2026-02-11","v":6837},{"d":"2026-02-14","v":6837},{"d":"2026-02-17","v":6847},{"d":"2026-02-18","v":6879},{"d":"2026-02-20","v":6910},{"d":"2026-02-23","v":6837},{"d":"2026-02-25","v":6948},{"d":"2026-02-27","v":6879},
{"d":"2026-03-01","v":6879},{"d":"2026-03-02","v":6818},{"d":"2026-03-04","v":6866},{"d":"2026-03-06","v":6738},{"d":"2026-03-08","v":6789},{"d":"2026-03-09","v":6795},{"d":"2026-03-12","v":6631},{"d":"2026-03-14","v":6665},{"d":"2026-03-17","v":6713},{"d":"2026-03-18","v":6617},{"d":"2026-03-20","v":6502},{"d":"2026-03-22","v":6579},{"d":"2026-03-25","v":6592},{"d":"2026-03-26","v":6368},{"d":"2026-03-29","v":6344},{"d":"2026-03-31","v":6359},
{"d":"2026-04-01","v":6569},{"d":"2026-04-03","v":6588},{"d":"2026-04-07","v":6611},{"d":"2026-04-08","v":6799},{"d":"2026-04-10","v":6822},{"d":"2026-04-13","v":6879},{"d":"2026-04-14","v":7013},{"d":"2026-04-16","v":7115},{"d":"2026-04-18","v":7086},{"d":"2026-04-20","v":7115},{"d":"2026-04-22","v":7067},{"d":"2026-04-24","v":7163},{"d":"2026-04-27","v":7172},{"d":"2026-04-28","v":7134},{"d":"2026-04-30","v":7224},
{"d":"2026-05-03","v":7197},{"d":"2026-05-05","v":7364},{"d":"2026-05-07","v":7396},{"d":"2026-05-10","v":7408},{"d":"2026-05-13","v":7498},{"d":"2026-05-14","v":7408},{"d":"2026-05-17","v":7408},{"d":"2026-05-18","v":7354},{"d":"2026-05-20","v":7434},{"d":"2026-05-22","v":7479},{"d":"2026-05-24","v":7503},{"d":"2026-05-26","v":7526},{"d":"2026-05-28","v":7574},{"d":"2026-05-31","v":7599}
]},
"mark": {"type": "line", "color": "#000080", "strokeWidth": 5, "strokeJoin": "round", "clip": true},
"encoding": {
  "x": {
    "field": "d", "type": "temporal",
    "scale": {"type": "utc", "nice": false, "domain": [{"year": 2021, "month": 1, "date": 1, "utc": true}, {"year": 2026, "month": 5, "date": 31, "utc": true}]},
    "axis": {
      "title": null, "grid": false,
      "values": [
        {"year": 2021, "month": 1, "date": 1, "utc": true}, {"year": 2021, "month": 4, "date": 1, "utc": true}, {"year": 2021, "month": 7, "date": 1, "utc": true}, {"year": 2021, "month": 10, "date": 1, "utc": true},
        {"year": 2022, "month": 1, "date": 1, "utc": true}, {"year": 2022, "month": 4, "date": 1, "utc": true}, {"year": 2022, "month": 7, "date": 1, "utc": true}, {"year": 2022, "month": 10, "date": 1, "utc": true},
        {"year": 2023, "month": 1, "date": 1, "utc": true}, {"year": 2023, "month": 4, "date": 1, "utc": true}, {"year": 2023, "month": 7, "date": 1, "utc": true}, {"year": 2023, "month": 10, "date": 1, "utc": true},
        {"year": 2024, "month": 1, "date": 1, "utc": true}, {"year": 2024, "month": 4, "date": 1, "utc": true}, {"year": 2024, "month": 7, "date": 1, "utc": true}, {"year": 2024, "month": 10, "date": 1, "utc": true},
        {"year": 2025, "month": 1, "date": 1, "utc": true}, {"year": 2025, "month": 4, "date": 1, "utc": true}, {"year": 2025, "month": 7, "date": 1, "utc": true}, {"year": 2025, "month": 10, "date": 1, "utc": true},
        {"year": 2026, "month": 1, "date": 1, "utc": true}, {"year": 2026, "month": 4, "date": 1, "utc": true}
      ],
      "format": "%-m/%-d/%Y",
      "labelAngle": -90, "labelAlign": "right", "labelBaseline": "middle",
      "labelPadding": 21, "labelOverlap": false, "labelFlush": false, "labelBound": false, "labelLimit": 0,
      "tickSize": 14, "tickColor": "#606060", "tickWidth": 1.5,
      "domainColor": "#404040", "domainWidth": 2.5
    }
  },
  "y": {
    "field": "v", "type": "quantitative",
    "scale": {"domain": [0, 8000], "nice": false, "zero": true},
    "axis": {
      "title": null,
      "values": [0, 1000, 2000, 3000, 4000, 5000, 6000, 7000, 8000],
      "format": ",d",
      "grid": true, "gridColor": "#333333", "gridWidth": 1.5,
      "gridOpacity": {"condition": {"test": "datum.value == 8000 || datum.value == 0", "value": 0}, "value": 1},
      "labelPadding": 28, "labelOverlap": false, "labelFlush": false, "labelLimit": 0,
      "tickSize": 14, "tickColor": "#606060", "tickWidth": 1.5,
      "domainColor": "#404040", "domainWidth": 2.5
    }
  }
}
}
